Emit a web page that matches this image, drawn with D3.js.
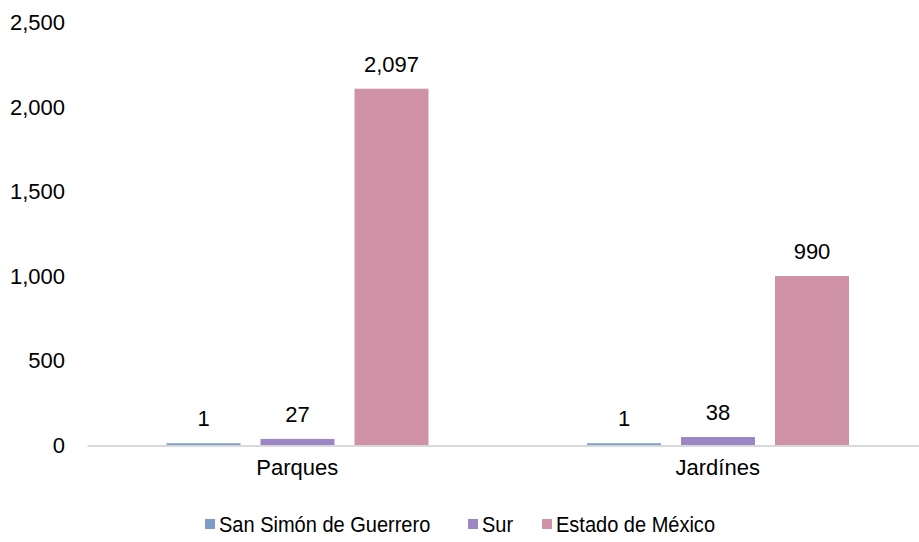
<!DOCTYPE html>
<html>
<head>
<meta charset="utf-8">
<script src="https://cdn.jsdelivr.net/npm/d3@7"></script>
<style>
  html, body { margin: 0; padding: 0; background: #fff; }
  text { font-family: "Liberation Sans", Arial, sans-serif; fill: #000; }
</style>
</head>
<body>
<svg id="chart" width="919" height="542"></svg>
<script>
// Data
const categories = ["Parques", "Jardínes"];
const seriesNames = ["San Simón de Guerrero", "Sur", "Estado de México"];
const seriesColors = ["#7c9ec6", "#9d86c6", "#d092a7"];
const sanSimon = [1, 1];
const sur = [27, 38];
const estado = [2097, 990];
const yTicks = [0, 500, 1000, 1500, 2000, 2500];

const seriesValues = [sanSimon, sur, estado];

const svg = d3.select("#chart");
const fmt = d3.format(",");

const x = d3.scaleBand().domain(categories).range([87, 928]).paddingInner(0).paddingOuter(0);
// three bars per category, 94px step with a gap of about 21px
const inner = d3.scaleBand().domain(seriesNames).range([69.5, 351.5])
  .paddingInner(0.2234).paddingOuter(0.1117);
const y = d3.scaleLinear().domain([0, 2500]).range([445.5, 22.5]);

// Y axis labels (no line, no ticks)
const yAxis = d3.axisLeft(y).tickValues(yTicks).tickFormat(fmt).tickSize(0).tickPadding(0);
const yg = svg.append("g").attr("transform", "translate(65,0)").call(yAxis);
yg.select(".domain").remove();
yg.selectAll("text").style("font-size", "22px").attr("font-family", null).attr("fill", "#000");

// Bars
const groups = svg.append("g").selectAll("g")
  .data(seriesNames.map((name, i) => ({ name, color: seriesColors[i], values: seriesValues[i] })))
  .join("g");

groups.selectAll("rect")
  .data(d => d.values.map((v, j) => ({ v, cat: categories[j], name: d.name, color: d.color })))
  .join("rect")
  .attr("x", d => x(d.cat) + inner(d.name))
  .attr("width", inner.bandwidth())
  .attr("y", d => y(d.v) - 1.5)
  .attr("height", d => y(0) - y(d.v) + 1.5)
  .attr("fill", d => d.color)
  .attr("stroke", d => d.color)
  .attr("stroke-width", 1);

// Value labels
groups.selectAll("text.val")
  .data(d => d.values.map((v, j) => ({ v, cat: categories[j], name: d.name })))
  .join("text")
  .attr("class", "val")
  .attr("x", d => x(d.cat) + inner(d.name) + inner.bandwidth() / 2)
  .attr("y", d => y(d.v) - 19)
  .attr("text-anchor", "middle")
  .style("font-size", "22px")
  .text(d => fmt(d.v));

// X axis
const xAxis = d3.axisBottom(x).tickSize(0).tickPadding(14);
const xg = svg.append("g").attr("transform", `translate(0,${y(0)})`).call(xAxis);
xg.select(".domain").attr("stroke", "#d9d9d9").attr("stroke-width", 2);
xg.selectAll("text").style("font-size", "22px").attr("font-family", null).attr("fill", "#000");

// Legend
const legendX = [205, 468, 542];
const legend = svg.append("g").selectAll("g")
  .data(seriesNames)
  .join("g")
  .attr("transform", (d, i) => `translate(${legendX[i]},519)`);
legend.append("rect").attr("width", 10).attr("height", 10)
  .attr("fill", (d, i) => seriesColors[i]);
legend.append("text")
  .attr("transform", "translate(14,13) scale(0.91,1)")
  .style("font-size", "22px")
  .text(d => d);
</script>
</body>
</html>
